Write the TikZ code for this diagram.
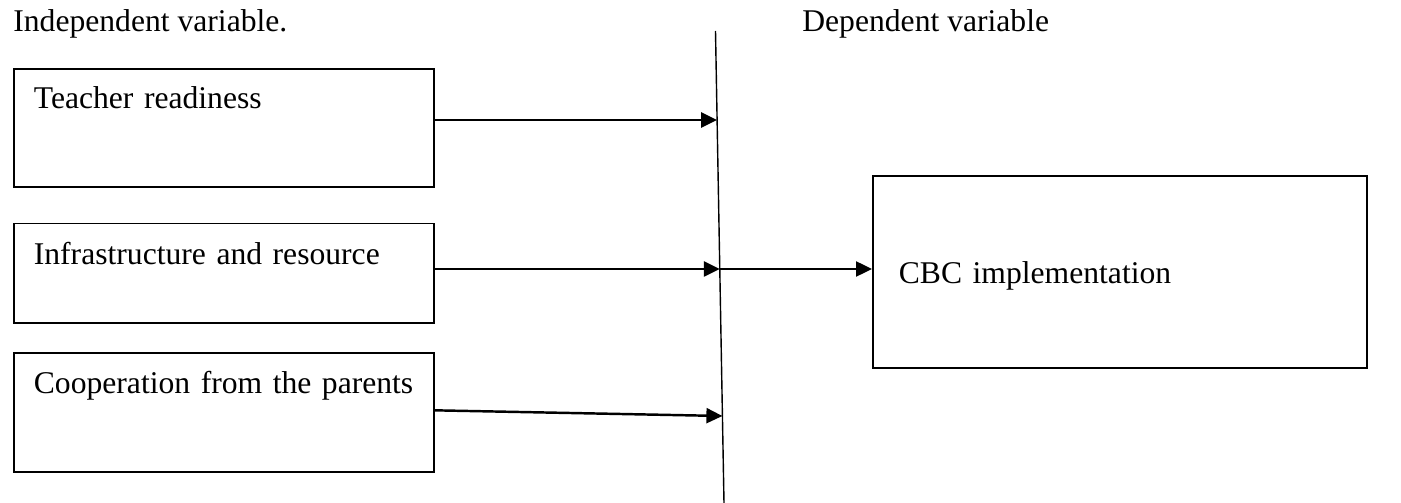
\documentclass[tikz,border=0pt]{standalone}
\usepackage{fontspec}
\setmainfont{Liberation Serif}
\usetikzlibrary{arrows.meta, positioning}

\begin{document}
\begin{tikzpicture}[
    x=0.02cm, y=-0.02cm,
    ivbox/.style={rectangle, draw, line width=1pt, inner xsep=0.4cm, inner ysep=0pt, text width=7.6cm, align=left, font=\fontsize{18}{21}\selectfont},
    dvbox/.style={rectangle, draw, line width=1pt, inner xsep=0.52cm, inner ysep=0pt, text width=8.84cm, align=left, font=\fontsize{18}{21}\selectfont},
    title/.style={font=\fontsize{18}{21}\selectfont, inner sep=0pt, anchor=base west},
    arrow/.style={-{Triangle[length=0.32cm, width=0.3cm]}, line width=1.4pt},
]
    \useasboundingbox (0,0) rectangle (1401,503);

    \node[title] (indep) at (13,32) {Independent variable.};
    \node[title] (dep) at (802,32) {Dependent variable};

    \node[ivbox, text height=0.8cm, text depth=1.56cm, anchor=north west] (teacher) at (13,68) {Teacher readiness};
    \node[ivbox, text height=0.82cm, text depth=1.17cm, below=0.7cm of teacher] (infra) {Infrastructure and resource};
    \node[ivbox, text height=0.82cm, text depth=1.56cm, below=0.56cm of infra] (coop) {Cooperation from the parents};

    \node[dvbox, text height=2.16cm, text depth=1.68cm, anchor=north west] (cbc) at (872,175) {CBC implementation};

    % the dividing line
    \coordinate (ltop) at (715.5,31);
    \coordinate (lbot) at (724,503);
    \draw[line width=0.8pt] (ltop) -- (lbot);
    \coordinate (hit1) at (717.1,120);
    \coordinate (hit2) at (719.8,269);
    \coordinate (hit3) at (722.4,416);

    \draw[arrow] (teacher.east |- hit1) -- (hit1);
    \draw[arrow] (infra.east |- hit2) -- (hit2);
    \draw[arrow] ([yshift=0.04cm]coop.east) -- (hit3);
    \draw[arrow] (hit2) -- (cbc.west |- hit2);
\end{tikzpicture}
\end{document}
